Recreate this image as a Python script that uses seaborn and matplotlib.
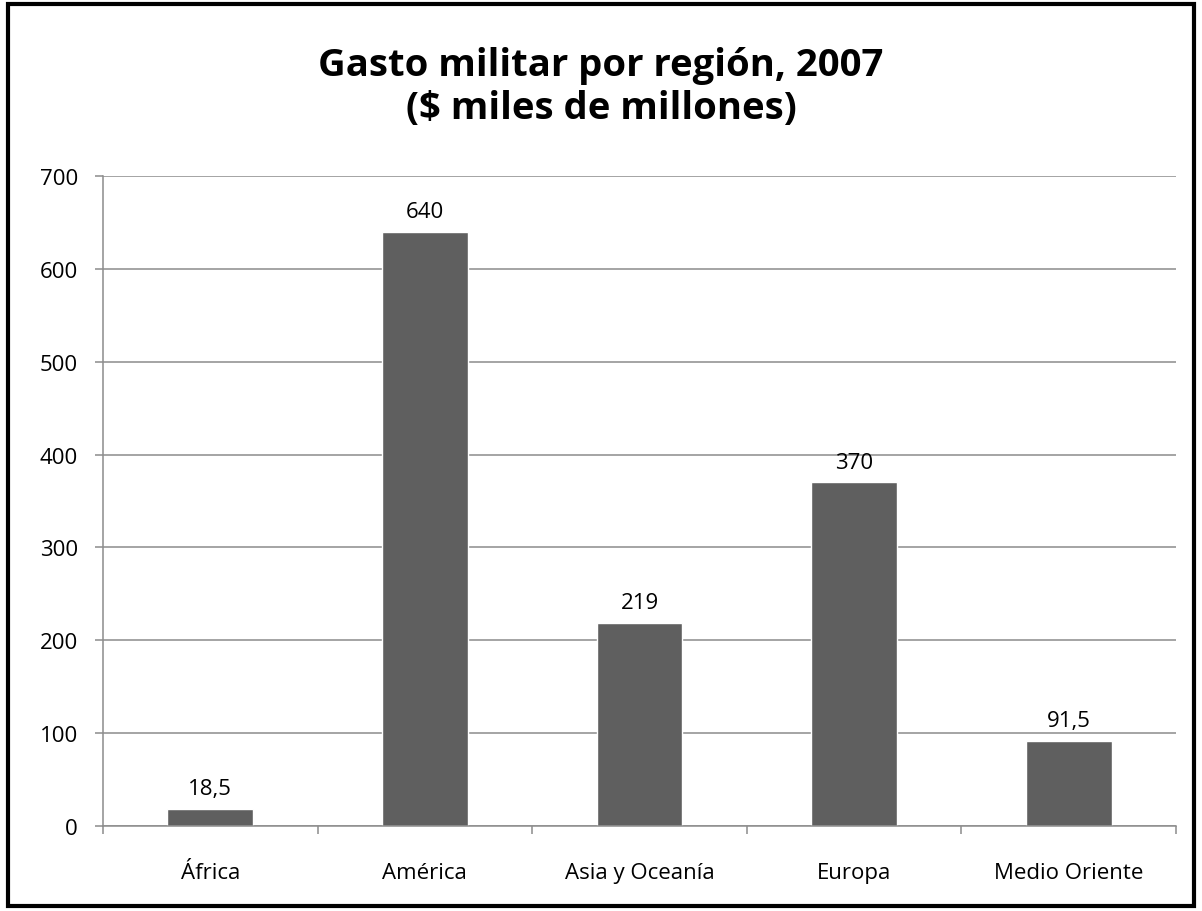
## bar chart: military spending by region, 2007

import numpy as np
import pandas as pd
import seaborn as sns
import matplotlib.pyplot as plt
from matplotlib.patches import Rectangle
from matplotlib.ticker import FixedLocator

regions = ["África", "América", "Asia y Oceanía", "Europa", "Medio Oriente"]
spending = [18.5, 640, 219, 370, 91.5]
value_labels = ["18,5", "640", "219", "370", "91,5"]
yticks = [0, 100, 200, 300, 400, 500, 600, 700]

df = pd.DataFrame({"Region": regions, "Gasto": spending})

sns.set_style("white")
plt.rcParams['font.family'] = ['Open Sans', 'DejaVu Sans']
plt.rcParams['text.color'] = 'black'
plt.rcParams['xtick.color'] = 'black'
plt.rcParams['ytick.color'] = 'black'

fig = plt.figure(figsize=(12.02, 9.12), dpi=100)
ax = fig.add_axes([0.0857, 0.0932, 0.8927, 0.7127])

sns.barplot(data=df, x="Region", y="Gasto", color="#5f5f5f", saturation=1,
            width=0.4, ax=ax)

ax.bar_label(ax.containers[0], labels=value_labels, padding=7, fontsize=16,
             color="black")

ax.set_ylim(0, 700)
ax.set_xlim(-0.5, len(regions) - 0.5)
ax.set_yticks(yticks)
ax.yaxis.grid(True, color="#8c8c8c", linewidth=1.1)
ax.set_axisbelow(True)
ax.set(xlabel="", ylabel="")

for side in ["top", "right"]:
    ax.spines[side].set_visible(False)
for side in ["left", "bottom"]:
    ax.spines[side].set_color("#8c8c8c")
    ax.spines[side].set_linewidth(1.1)

# category separators as ticks on the x axis
ax.xaxis.set_minor_locator(FixedLocator(np.arange(-0.5, len(regions), 1.0)))
ax.tick_params(axis="x", which="major", length=0, labelsize=16, pad=26,
               labelcolor="black")
ax.tick_params(axis="x", which="minor", length=6, color="#8c8c8c", width=1.1,
               direction="out", bottom=True)
ax.tick_params(axis="y", which="major", length=6, color="#8c8c8c", width=1.1,
               direction="out", left=True, labelsize=16, pad=12,
               labelcolor="black")

fig.text(0.5, 0.904, "Gasto militar por región, 2007\n($ miles de millones)",
         ha="center", va="center", fontsize=27.5, fontweight="bold",
         color="black", linespacing=1.2)

# outer frame
fig.patches.append(Rectangle((0.0066, 0.0055), 0.9868, 0.989, transform=fig.transFigure,
                             fill=False, edgecolor="black", linewidth=3))

fig.savefig("out.png", dpi=100)
plt.close()
